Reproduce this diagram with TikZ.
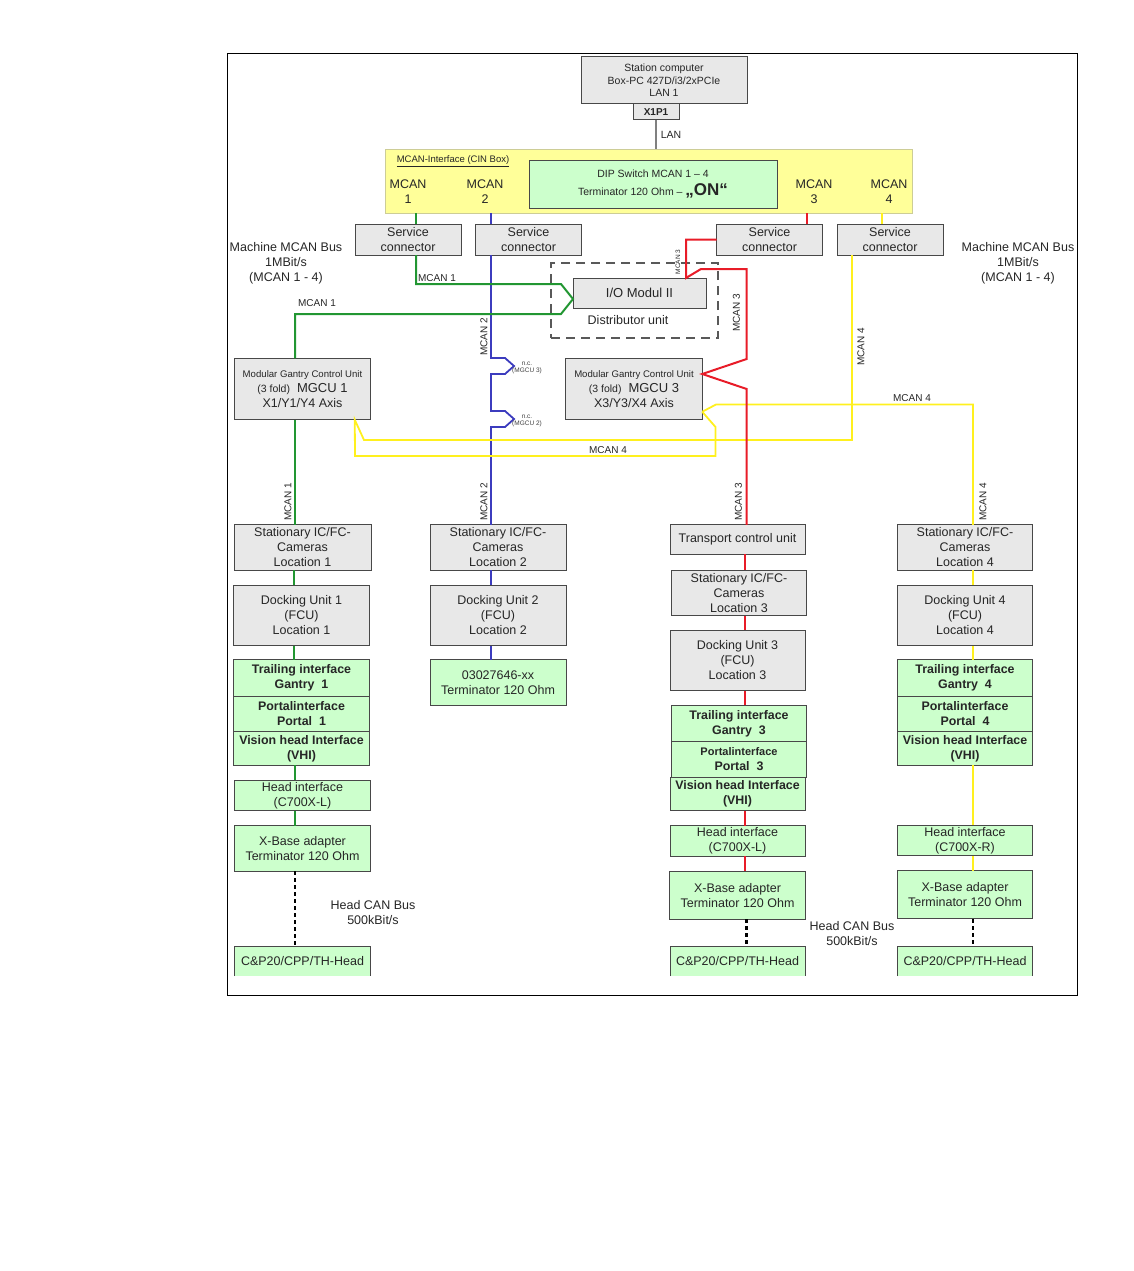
\documentclass[tikz,border=0pt]{standalone}
\usepackage{fontspec}
\setmainfont{Liberation Sans}
\usepackage{xcolor}
\usetikzlibrary{positioning,calc}
\definecolor{boxgray}{HTML}{E8E8E8}
\definecolor{boxgreen}{HTML}{CCFFCC}
\definecolor{boxyellow}{HTML}{FFFF99}
\definecolor{edgegray}{HTML}{484848}
\definecolor{wiregreen}{HTML}{229632}
\definecolor{wireblue}{HTML}{3C3CBE}
\definecolor{wirered}{HTML}{E81C28}
\definecolor{wireyellow}{HTML}{FFF01E}
\newcommand{\fs}[1]{\fontsize{#1}{15}\selectfont}
\tikzset{
  blk/.style     ={draw=edgegray, line width=1pt, fill=boxgray, align=center, inner sep=0pt, outer sep=0pt, font=\fs{12.5}, text=black!85},
  grnblk/.style  ={blk, fill=boxgreen},
  boldblk/.style ={grnblk, font=\fs{12.4}\bfseries},
  svcblk/.style  ={blk, minimum width=106pt, minimum height=31pt},
  statblk/.style ={blk, minimum width=137pt, minimum height=45.5pt},
  dockblk/.style ={blk, minimum width=136pt, minimum height=60.5pt},
  gcublk/.style  ={blk, minimum width=136.5pt, minimum height=61.5pt},
  trailblk/.style={boldblk, minimum width=136pt, minimum height=36.5pt},
  portblk/.style ={boldblk, minimum width=136pt, minimum height=35.5pt},
  vhiblk/.style  ={boldblk, minimum width=136pt, minimum height=33.5pt},
  headblk/.style ={grnblk, minimum width=136.5pt, minimum height=30.5pt},
  xbaseblk/.style={grnblk, minimum width=136.5pt, minimum height=45.5pt},
  hdtop/.style   ={fill=boxgreen, align=center, inner sep=0pt, outer sep=0pt, font=\fs{12.5}, text=black!85, minimum width=136pt, minimum height=30pt},
  lbl/.style     ={align=center, inner sep=0pt, outer sep=0pt, font=\fs{12.5}, text=black!85},
  tag/.style     ={inner sep=0pt, outer sep=0pt, font=\fs{10}, text=black!85},
  nc/.style      ={inner sep=0pt, outer sep=0pt, align=center, font=\fontsize{6.5}{7.5}\selectfont, text=black!75},
  can1/.style    ={draw=wiregreen, line width=2pt},
  can2/.style    ={draw=wireblue, line width=1.8pt},
  can3/.style    ={draw=wirered, line width=2pt},
  can4/.style    ={draw=wireyellow, line width=1.8pt},
  headbus/.style ={black, line width=2.2pt, dash pattern=on 4pt off 3pt},
}
\begin{document}
\begin{tikzpicture}[x=1pt,y=-1pt]
  \useasboundingbox (0,0) rectangle (1134,1271);
  \node[draw=black, line width=0.9pt, minimum width=850pt, minimum height=942pt, inner sep=0pt] (frame) at (652,524) {};

  % top part
  \node[blk, minimum width=166pt, minimum height=47pt, font=\fontsize{10.5}{12.5}\selectfont] (pc) at (664,80.5) {Station computer\\Box-PC 427D/i3/2xPCIe\\LAN 1};
  \node[blk, minimum width=46pt, minimum height=16pt, font=\fs{10}\bfseries, below=0pt of pc, xshift=-8pt] (x1p1) {X1P1};
  \node[fill=boxyellow, draw={rgb,255:red,205;green,205;blue,150}, line width=1pt, minimum width=527pt, minimum height=64pt, inner sep=0pt, outer sep=0pt] (cin) at (648.5,181) {};
  \node[grnblk, minimum width=248pt, minimum height=48pt, font=\fs{10.5}] (dip) at (653,184) {DIP Switch MCAN 1 -- 4\\[3pt]Terminator 120 Ohm -- {\fs{17}\bfseries „ON“}};
  \node[tag, font=\fs{9.5}] (cinlbl) at (453,161) {\underline{MCAN-Interface (CIN Box)}};
  \node[lbl] (port1) at (408,191.5) {MCAN\\1};
  \node[lbl] (port2) at (485,191.5) {MCAN\\2};
  \node[lbl] (port3) at (814,191.5) {MCAN\\3};
  \node[lbl] (port4) at (889,191.5) {MCAN\\4};
  \node[tag, font=\fs{10.5}] (lanlbl) at (671,135) {LAN};
  \draw[draw=gray, line width=1.5pt] (x1p1.south) -- (x1p1.south |- cin.north);

  \node[svcblk] (svc1) at (408,239.5) {Service\\connector};
  \node[svcblk] (svc2) at (528.5,239.5) {Service\\connector};
  \node[svcblk] (svc3) at (769.5,239.5) {Service\\connector};
  \node[svcblk] (svc4) at (890,239.5) {Service\\connector};
  \node[lbl] (busleft) at (286,263.5) {Machine MCAN Bus\\1MBit/s\\(MCAN 1 - 4)};
  \node[lbl] (busright) at (1018,263.5) {Machine MCAN Bus\\1MBit/s\\(MCAN 1 - 4)};

  \node[draw=black!65, line width=1.2pt, dash pattern=on 9pt off 6pt, minimum width=167pt, minimum height=75pt, inner sep=0pt] (distbox) at (634.5,300.5) {};
  \node[blk, minimum width=133pt, minimum height=30pt, font=\fs{13}] (ioii) at (639.5,293) {I/O Modul II};
  \node[lbl, font=\fs{12.5}] (distlbl) at (628,320) {Distributor unit};
  \node[gcublk] (mgcu1) at (302.5,389) {{\fs{9.6}Modular Gantry Control Unit}\\{\fs{10.5}(3 fold)}\ \ {\fs{13}MGCU 1}\\X1/Y1/Y4 Axis};
  \node[gcublk] (mgcu3) at (634,389) {{\fs{9.6}Modular Gantry Control Unit}\\{\fs{10.5}(3 fold)}\ \ {\fs{13}MGCU 3}\\X3/Y3/X4 Axis};

  % column 1
  \node[statblk] (stat1) at (302.5,547.5) {Stationary IC/FC-\\Cameras\\Location 1};
  \node[dockblk, below=15pt of stat1, xshift=-1pt] (dock1) {Docking Unit 1\\(FCU)\\Location 1};
  \node[trailblk, below=14pt of dock1] (trail1) {Trailing interface\\Gantry\ \ 1};
  \node[portblk, below=0pt of trail1] (port1a) {Portalinterface\\Portal\ \ 1};
  \node[vhiblk, below=0pt of port1a] (vhi1) {Vision head Interface\\(VHI)};
  \node[headblk, below=15pt of vhi1, xshift=1pt] (hif1) {Head interface\\(C700X-L)};
  \node[xbaseblk, below=15pt of hif1] (xb1) {X-Base adapter\\Terminator 120 Ohm};
  \node[hdtop, minimum width=136.5pt] (head1) at (302.5,961) {C\&P20/CPP/TH-Head};

  % column 2
  \node[statblk, minimum width=136pt] (stat2) at (498,547.5) {Stationary IC/FC-\\Cameras\\Location 2};
  \node[dockblk, below=15pt of stat2] (dock2) {Docking Unit 2\\(FCU)\\Location 2};
  \node[xbaseblk, minimum width=136pt, below=14pt of dock2] (term2) {03027646-xx\\Terminator 120 Ohm};

  % column 3
  \node[blk, minimum width=135pt, minimum height=29.5pt] (tcu) at (737.5,539.5) {Transport control unit};
  \node[statblk, minimum width=134.5pt, below=16pt of tcu, xshift=1.5pt] (stat3) {Stationary IC/FC-\\Cameras\\Location 3};
  \node[dockblk, minimum width=135pt, below=14.5pt of stat3, xshift=-1.5pt] (dock3) {Docking Unit 3\\(FCU)\\Location 3};
  \node[trailblk, minimum width=134.5pt, below=14.5pt of dock3, xshift=1.5pt] (trail3) {Trailing interface\\Gantry\ \ 3};
  \node[portblk, minimum width=134.5pt, below=0pt of trail3] (port3a) {{\fs{11}Portalinterface}\\Portal\ \ 3};
  \node[vhiblk, minimum width=135pt, below=0pt of port3a, xshift=-1.5pt] (vhi3) {Vision head Interface\\(VHI)};
  \node[headblk, minimum width=135pt, below=15pt of vhi3] (hif3) {Head interface\\(C700X-L)};
  \node[xbaseblk, minimum width=136pt, minimum height=48pt, below=15pt of hif3] (xb3) {X-Base adapter\\Terminator 120 Ohm};
  \node[hdtop, minimum width=135pt] (head3) at (737.5,961) {C\&P20/CPP/TH-Head};

  % column 4
  \node[statblk, minimum width=135.5pt] (stat4) at (965,547.5) {Stationary IC/FC-\\Cameras\\Location 4};
  \node[dockblk, minimum width=135.5pt, below=15pt of stat4] (dock4) {Docking Unit 4\\(FCU)\\Location 4};
  \node[trailblk, minimum width=135.5pt, below=14pt of dock4] (trail4) {Trailing interface\\Gantry\ \ 4};
  \node[portblk, minimum width=135.5pt, below=0pt of trail4] (port4a) {Portalinterface\\Portal\ \ 4};
  \node[vhiblk, minimum width=135.5pt, below=0pt of port4a] (vhi4) {Vision head Interface\\(VHI)};
  \node[headblk, minimum width=135.5pt, below=60pt of vhi4] (hif4) {Head interface\\(C700X-R)};
  \node[xbaseblk, minimum width=135.5pt, minimum height=48pt, below=15pt of hif4] (xb4) {X-Base adapter\\Terminator 120 Ohm};
  \node[hdtop, minimum width=135.5pt] (head4) at (965,961) {C\&P20/CPP/TH-Head};
  \foreach \n in {head1,head3,head4}
    \draw[draw=edgegray, line width=1pt] (\n.south west) |- (\n.north east) -- (\n.south east);

  % MCAN 2
  \draw[can2] ([xshift=-37.5pt]svc2.north |- cin.south) -- ([xshift=-37.5pt]svc2.north);
  \draw[can2] ([xshift=-37.5pt]svc2.south) -- (491,358) -- (505,358) -- (514,366) -- (505,374) -- (491,374) -- (491,411) -- (505,411) -- (514,419) -- (505,427) -- (491,427) -- ([xshift=-7pt]stat2.north);
  \draw[can2] ([xshift=-7pt]stat2.south) -- ([xshift=-7pt]dock2.north);
  \draw[can2] ([xshift=-7pt]dock2.south) -- ([xshift=-7pt]term2.north);

  % MCAN 1
  \draw[can1] ([xshift=8pt]svc1.north |- cin.south) -- ([xshift=8pt]svc1.north);
  \draw[can1] ([xshift=8pt]svc1.south) |- (561,284) -- ([yshift=-6pt]ioii.west) -- (561,314) -| ([xshift=-7.5pt]mgcu1.north);
  \draw[can1] ([xshift=-7.5pt]mgcu1.south) -- ([xshift=-7.5pt]stat1.north);
  \draw[can1] ([xshift=-8.2pt]stat1.south) -- ([xshift=-7.2pt]dock1.north);
  \draw[can1] ([xshift=-7.2pt]dock1.south) -- ([xshift=-7.2pt]trail1.north);
  \draw[can1] ([xshift=-6.2pt]vhi1.south) -- ([xshift=-7.2pt]hif1.north);
  \draw[can1] ([xshift=-7.2pt]hif1.south) -- ([xshift=-7.2pt]xb1.north);

  % MCAN 4
  \draw[can4] ([xshift=-8pt]svc4.north |- cin.south) -- ([xshift=-8pt]svc4.north);
  \draw[can4] ([xshift=-38pt]svc4.south) |- (364,440) -- ([xshift=-16pt]mgcu1.south east) -- (355,456) -| (715.5,427) -- ([yshift=8pt]mgcu3.south east);
  \draw[can4] ([yshift=8pt]mgcu3.south east) -- (716,404.5) -| ([xshift=8pt]stat4.north);
  \draw[can4] ([xshift=8pt]stat4.south) -- ([xshift=8pt]dock4.north);
  \draw[can4] ([xshift=8pt]dock4.south) -- ([xshift=8pt]trail4.north);
  \draw[can4] ([xshift=8pt]vhi4.south) -- ([xshift=8pt]hif4.north);
  \draw[can4] ([xshift=8pt]hif4.south) -- ([xshift=8pt]xb4.north);

  % MCAN 3
  \draw[can3] ([xshift=37.3pt]svc3.north |- cin.south) -- ([xshift=37.3pt]svc3.north);
  \draw[can3] (svc3.west) -| (686,278) -- (701,269) -| (746.7,359) -- (mgcu3.east |- 0,374) -- (723,381) -- (746.7,389) -- ([xshift=9pt]tcu.north);
  \draw[can3] ([xshift=7.7pt]tcu.south) -- ([xshift=6.2pt]stat3.north);
  \draw[can3] ([xshift=6.2pt]stat3.south) -- ([xshift=7.7pt]dock3.north);
  \draw[can3] ([xshift=7.7pt]dock3.south) -- ([xshift=6.2pt]trail3.north);
  \draw[can3] ([xshift=7.7pt]vhi3.south) -- ([xshift=7.7pt]hif3.north);
  \draw[can3] ([xshift=7.7pt]hif3.south) -- ([xshift=7.7pt]xb3.north);

  % head bus
  \draw[headbus] ([xshift=-7.5pt]xb1.south) -- ([xshift=-7.5pt]head1.north);
  \draw[headbus] ([xshift=9pt]xb3.south) -- ([xshift=9pt]head3.north);
  \draw[headbus] ([xshift=8pt]xb4.south) -- ([xshift=8pt]head4.north);
  \node[lbl] (headcan1) at (373,912.5) {Head CAN Bus\\500kBit/s};
  \node[lbl] (headcan3) at (852,933.5) {Head CAN Bus\\500kBit/s};

  % line labels
  \node[tag] (tagA) at (437,278) {MCAN 1};
  \node[tag] (tagB) at (317,303) {MCAN 1};
  \node[tag, rotate=90] (tagC) at (484,337) {MCAN 2};
  \node[tag, rotate=90] (tagD) at (288,502) {MCAN 1};
  \node[tag, rotate=90] (tagE) at (484,502) {MCAN 2};
  \node[tag, rotate=90, font=\fs{6.5}] (tagF) at (678,262) {MCAN 3};
  \node[tag, rotate=90] (tagG) at (736.5,313) {MCAN 3};
  \node[tag, rotate=90] (tagH) at (738.5,502) {MCAN 3};
  \node[tag, rotate=90] (tagI) at (861,347) {MCAN 4};
  \node[tag, rotate=90] (tagJ) at (983,502) {MCAN 4};
  \node[tag] (tagK) at (912,398) {MCAN 4};
  \node[tag] (tagL) at (608,450) {MCAN 4};
  \node[nc] (ncA) at (527,368) {n.c.\\(MGCU 3)};
  \node[nc] (ncB) at (527,421) {n.c.\\(MGCU 2)};
\end{tikzpicture}
\end{document}
